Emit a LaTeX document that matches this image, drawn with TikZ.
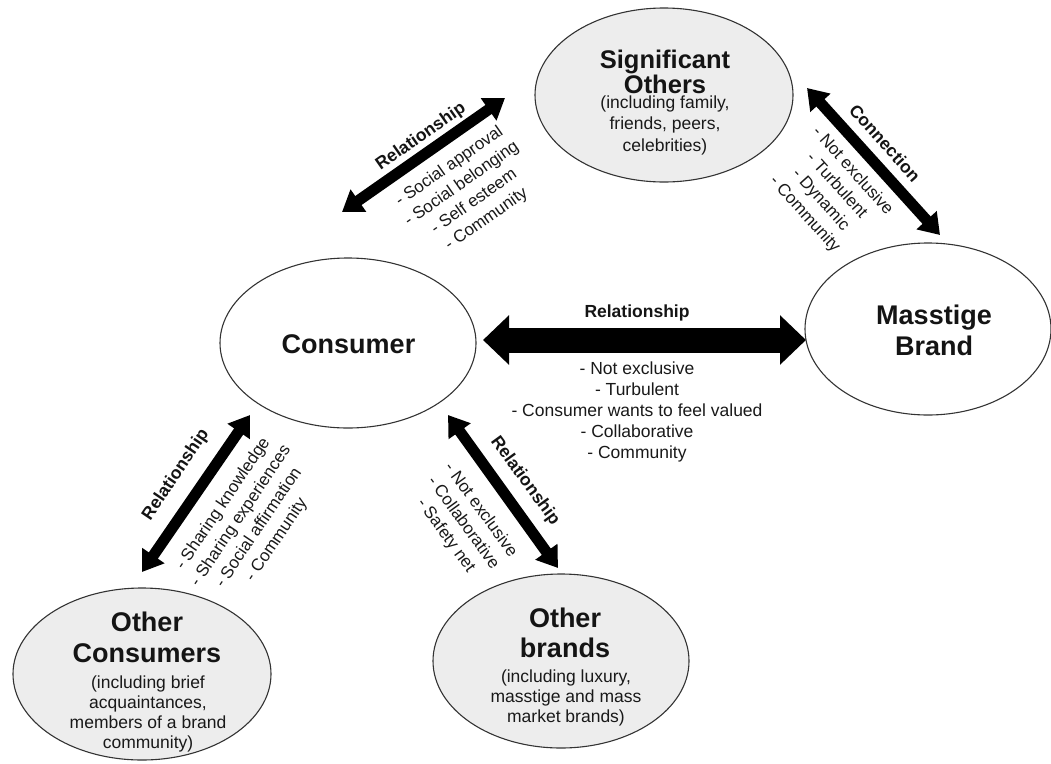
\documentclass[tikz,border=0pt]{standalone}
\usepackage{fontspec}
\setmainfont{Liberation Sans}
\usetikzlibrary{arrows.meta,shapes.geometric}
\begin{document}
\begin{tikzpicture}[x=1pt,y=-1pt,
  bubble/.style={ellipse, draw=black!80, line width=1.1pt, inner sep=0pt},
  shaded/.style={fill=black!7},
  title/.style={font=\fontsize{27}{31}\selectfont\bfseries, align=center, inner sep=0pt, text=black!92},
  sub/.style={font=\fontsize{17.5}{20.5}\selectfont, align=center, inner sep=0pt, text=black!90},
  lab/.style={font=\fontsize{17.5}{21}\selectfont\bfseries, inner sep=0pt, text=black!92},
  lst/.style={font=\fontsize{17}{21.5}\selectfont, align=center, inner sep=0pt, text=black!90},
  bigarrow/.style={line width=25pt, {Triangle[length=26pt,width=48pt]}-{Triangle[length=26pt,width=48pt]}},
  arr/.style={line width=11pt, {Triangle[length=20pt,width=26pt]}-{Triangle[length=20pt,width=26pt]}},
]
\path[use as bounding box] (0,0) rectangle (1051,763);

% ellipses
\node[bubble, shaded, minimum width=258pt, minimum height=174pt] (sig) at (664,95) {};
\node[bubble, minimum width=246pt, minimum height=172pt] (mass) at (928,329) {};
\node[bubble, minimum width=256pt, minimum height=170pt] (cons) at (348,343) {};
\node[bubble, shaded, minimum width=258pt, minimum height=172pt] (ocons) at (142,674) {};
\node[bubble, shaded, minimum width=256pt, minimum height=174pt] (obr) at (561,661) {};

% texts in ellipses
\node[title, font=\fontsize{25.5}{25}\selectfont\bfseries] (sigT) at (665,71.5) {Significant\\Others};
\node[sub, font=\fontsize{17.5}{21.5}\selectfont] (sigS) at (665,125) {(including family,\\friends, peers,\\celebrities)};
\node[title] (massT) at (934,330) {Masstige\\Brand};
\node[title] (consT) at (348.5,344) {Consumer};
\node[title] (oconsT) at (147,637.5) {Other\\Consumers};
\node[sub, font=\fontsize{17.5}{20}\selectfont] (oconsS) at (148,713.5) {(including brief\\acquaintances,\\members of a brand\\community)};
\node[title, font=\fontsize{27}{30}\selectfont\bfseries] (obrT) at (565,633) {Other\\brands};
\node[sub, font=\fontsize{17.5}{20}\selectfont] (obrS) at (566,697.5) {(including luxury,\\masstige and mass\\market brands)};

% arrow end points
\coordinate (cA) at (483,340);
\coordinate (mA) at (806,340);
\coordinate (tl1) at (342,212);
\coordinate (tl2) at (505,98);
\coordinate (tr1) at (807,88);
\coordinate (tr2) at (940,235);
\coordinate (bl1) at (250,415);
\coordinate (bl2) at (142,572);
\coordinate (bc1) at (448,415);
\coordinate (bc2) at (558,568);

\draw[bigarrow] (cA) -- (mA);
\draw[arr] (tl1) -- (tl2);
\draw[arr] (tr1) -- (tr2);
\draw[arr] (bl1) -- (bl2);
\draw[arr] (bc1) -- (bc2);

% labels
\node[lab] (cL) at (637,313) {Relationship};
\node[lst, font=\fontsize{17.5}{21}\selectfont] (cS) at (637,411.5) {- Not exclusive\\- Turbulent\\- Consumer wants to feel valued\\- Collaborative\\- Community};

\node[lab, rotate=35] (tlL) at (421,137) {Relationship};
\node[lst, rotate=35] (tlS) at (468,193) {- Social approval\\- Social belonging\\- Self esteem\\- Community};

\node[lab, rotate=-48] (trL) at (885,143) {Connection};
\node[lst, rotate=-48] (trS) at (828.5,193) {- Not exclusive\\- Turbulent\\- Dynamic\\- Community};

\node[lab, rotate=56] (blL) at (176,475) {Relationship};
\node[lst, rotate=56] (blS) at (250,522) {- Sharing knowledge\\- Sharing experiences\\- Social affirmation\\- Community};

\node[lab, rotate=-54] (bcL) at (525,481) {Relationship};
\node[lst, rotate=-54] (bcS) at (463,523) {- Not exclusive\\- Collaborative\\- Safety net};
\end{tikzpicture}
\end{document}
